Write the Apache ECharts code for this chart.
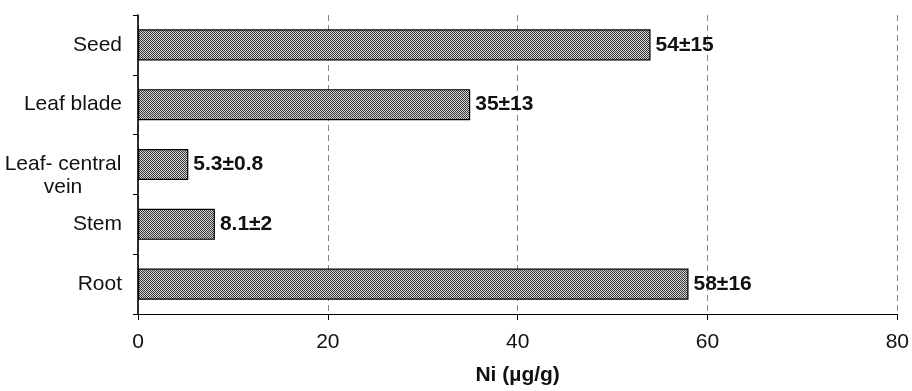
<!DOCTYPE html>
<html>
<head>
<meta charset="utf-8">
<script src="https://cdn.jsdelivr.net/npm/echarts@6/dist/echarts.min.js"></script>
<style>html,body{margin:0;padding:0;background:#fff}#c{width:912px;height:391px}</style>
</head>
<body>
<div id="c"></div>
<script>
const categories = ['Root', 'Stem', 'Leaf- central vein', 'Leaf blade', 'Seed'];
const values = [58, 8.1, 5.3, 35, 54];
const errorLabels = ['58±16', '8.1±2', '5.3±0.8', '35±13', '54±15'];
const xTicks = [0, 20, 40, 60, 80];

const pat = document.createElement('canvas');
pat.width = 2; pat.height = 2;
const pc = pat.getContext('2d');
pc.fillStyle = '#d2d2d2'; pc.fillRect(0, 0, 2, 2);
pc.fillStyle = '#3a3a3a'; pc.fillRect(0, 0, 1, 1); pc.fillRect(1, 1, 1, 1);

const chart = echarts.init(document.getElementById('c'));
const font = 'Liberation Sans';
const fs = 21;
chart.setOption({
  animation: false,
  grid: { left: 138, right: 11, top: 15, bottom: 75, containLabel: false },
  xAxis: {
    type: 'value', min: xTicks[0], max: xTicks[xTicks.length - 1], interval: 20,
    axisLine: { show: true, lineStyle: { color: '#000', width: 1 } },
    axisTick: { show: true, length: 6, lineStyle: { color: '#000' } },
    splitLine: { show: true, lineStyle: { color: '#888', type: [6, 4], width: 1 } },
    axisLabel: { color: '#111', fontFamily: font, fontSize: fs, margin: 18 },
    name: 'Ni (µg/g)', nameLocation: 'middle', nameGap: 51,
    nameTextStyle: { color: '#111', fontFamily: font, fontSize: fs, fontWeight: 'bold' }
  },
  yAxis: {
    type: 'category', data: categories,
    axisLine: { show: true, lineStyle: { color: '#000', width: 1.6 } },
    axisTick: { show: true, length: 5, lineStyle: { color: '#000' } },
    splitLine: { show: false },
    axisLabel: {
      color: '#111', fontFamily: font, fontSize: fs, margin: 16,
      formatter: function (v) {
        if (v === 'Leaf- central vein') return '{c| }\n{c|Leaf- central}\n{c|vein}';
        return v;
      },
      rich: { c: { width: 118, align: 'center', fontFamily: font, fontSize: fs, color: '#111', lineHeight: 23 } }
    }
  },
  series: [{
    type: 'bar', data: values, barCategoryGap: '48%',
    itemStyle: { color: { image: pat, repeat: 'repeat' }, borderColor: '#000', borderWidth: 1.2 },
    label: {
      show: true, position: 'right', distance: 5,
      formatter: function (p) { return errorLabels[p.dataIndex]; },
      color: '#111', fontFamily: font, fontSize: fs, fontWeight: 'bold'
    }
  }]
});
</script>
</body>
</html>
